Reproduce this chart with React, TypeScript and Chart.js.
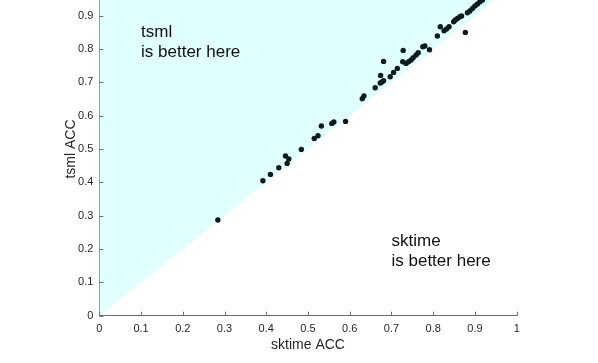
import React, { useEffect, useRef } from 'react';
import { Chart, registerables } from 'chart.js';

Chart.register(...registerables);

// sktime ACC (x) vs tsml ACC (y)
const sktimeAcc = [
  0.284, 0.392, 0.410, 0.430, 0.446, 0.454, 0.450, 0.484, 0.515, 0.524,
  0.532, 0.557, 0.562, 0.590, 0.630, 0.634, 0.661, 0.673, 0.677, 0.681,
  0.674, 0.681, 0.697, 0.705, 0.714, 0.728, 0.727, 0.735, 0.741, 0.747,
  0.752, 0.759, 0.764, 0.775, 0.780, 0.791, 0.810, 0.817, 0.826, 0.832,
  0.838, 0.849, 0.853, 0.858, 0.864, 0.868, 0.877, 0.882, 0.888, 0.894,
  0.900, 0.906, 0.912, 0.918,
];
const tsmlAcc = [
  0.287, 0.405, 0.424, 0.444, 0.479, 0.470, 0.457, 0.499, 0.532, 0.540,
  0.569, 0.577, 0.581, 0.583, 0.651, 0.659, 0.684, 0.698, 0.701, 0.705,
  0.721, 0.763, 0.717, 0.730, 0.742, 0.796, 0.762, 0.757, 0.762, 0.767,
  0.774, 0.782, 0.789, 0.807, 0.809, 0.798, 0.839, 0.867, 0.855, 0.860,
  0.867, 0.882, 0.887, 0.892, 0.897, 0.899, 0.850, 0.909, 0.914, 0.922,
  0.929, 0.935, 0.942, 0.947,
];

const tickValues = [0, 0.1, 0.2, 0.3, 0.4, 0.5, 0.6, 0.7, 0.8, 0.9, 1];
const tickLabels = ['0', '0.1', '0.2', '0.3', '0.4', '0.5', '0.6', '0.7', '0.8', '0.9', '1'];
const diagonalX = [0, 1];
const diagonalY = [0, 1];
const xTitle = 'sktime ACC';
const yTitle = 'tsml ACC';
const noteTsmlLines = ['tsml', 'is better here'];
const noteTsmlPos = [0.1, 0.835];
const noteSktimeLines = ['sktime', 'is better here'];
const noteSktimePos = [0.7, 0.21];

const FONT = '"Liberation Sans", Arial, Helvetica, sans-serif';
const AXIS_COLOR = '#6e6e6e';
const TEXT_COLOR = '#262626';

const extrasPlugin = {
  id: 'extras',
  afterDatasetsDraw(chart: any) {
    const { ctx, chartArea, scales } = chart;
    const xs = scales.x;
    const ys = scales.y;
    ctx.save();
    // inward tick marks
    ctx.strokeStyle = AXIS_COLOR;
    ctx.lineWidth = 1;
    ctx.beginPath();
    tickValues.forEach((v) => {
      const px = Math.round(xs.getPixelForValue(v)) + 0.5;
      ctx.moveTo(px, chartArea.bottom);
      ctx.lineTo(px, chartArea.bottom - 4);
      const py = Math.round(ys.getPixelForValue(v)) + 0.5;
      ctx.moveTo(chartArea.left, py);
      ctx.lineTo(chartArea.left + 4, py);
    });
    ctx.stroke();
    // annotations
    ctx.fillStyle = '#111111';
    ctx.font = `17px ${FONT}`;
    ctx.textAlign = 'left';
    ctx.textBaseline = 'alphabetic';
    const drawNote = (lines: string[], pos: number[]) => {
      const x = xs.getPixelForValue(pos[0]);
      const y = ys.getPixelForValue(pos[1]);
      lines.forEach((t, i) => ctx.fillText(t, x, y + i * 20));
    };
    drawNote(noteTsmlLines, noteTsmlPos);
    drawNote(noteSktimeLines, noteSktimePos);
    ctx.restore();
  },
};

export default function App() {
  const canvasRef = useRef<HTMLCanvasElement | null>(null);

  useEffect(() => {
    if (!canvasRef.current) return;
    const points = sktimeAcc.map((x, i) => ({ x, y: tsmlAcc[i] }));
    const diag = diagonalX.map((x, i) => ({ x, y: diagonalY[i] }));
    const chart = new Chart(canvasRef.current, {
      type: 'scatter',
      data: {
        datasets: [
          {
            type: 'line',
            data: diag,
            borderWidth: 0,
            borderColor: 'rgba(0,0,0,0)',
            pointRadius: 0,
            fill: 'end',
            backgroundColor: '#e0ffff',
            order: 2,
          } as any,
          {
            data: points,
            pointRadius: 2.7,
            pointBorderWidth: 0,
            pointBackgroundColor: '#0c1c1c',
            backgroundColor: '#0c1c1c',
            borderWidth: 0,
            order: 1,
          },
        ],
      },
      options: {
        animation: false,
        responsive: true,
        maintainAspectRatio: false,
        layout: { padding: { top: 19.4, right: 81.3, bottom: 0, left: 0 } },
        plugins: { legend: { display: false }, tooltip: { enabled: false } },
        scales: {
          x: {
            type: 'linear',
            min: 0,
            max: 1,
            grid: { display: false, drawTicks: false },
            border: { display: true, color: AXIS_COLOR, width: 1 },
            afterBuildTicks: (s: any) => {
              s.ticks = tickValues.map((v) => ({ value: v }));
            },
            afterFit: (s: any) => {
              s.height = 47.3;
            },
            ticks: {
              autoSkip: false,
              maxRotation: 0,
              padding: 7,
              color: TEXT_COLOR,
              font: { family: FONT, size: 11 },
              callback: (_v: any, i: number) => tickLabels[i],
            },
            title: {
              display: true,
              text: xTitle,
              color: TEXT_COLOR,
              font: { family: FONT, size: 14 },
              padding: { top: 0, bottom: 9.6 },
            },
          },
          y: {
            type: 'linear',
            min: 0,
            max: 1,
            grid: { display: false, drawTicks: false },
            border: { display: true, color: AXIS_COLOR, width: 1 },
            afterBuildTicks: (s: any) => {
              s.ticks = tickValues.map((v) => ({ value: v }));
            },
            afterFit: (s: any) => {
              s.width = 99.3;
            },
            ticks: {
              autoSkip: false,
              padding: 6,
              color: TEXT_COLOR,
              font: { family: FONT, size: 11 },
              callback: (_v: any, i: number) => tickLabels[i],
            },
            title: {
              display: true,
              text: yTitle,
              color: TEXT_COLOR,
              font: { family: FONT, size: 14 },
              padding: { top: 62.6, bottom: 0 },
            },
          },
        },
      },
      plugins: [extrasPlugin],
    });
    return () => chart.destroy();
  }, []);

  return (
    <div
      style={{
        position: 'fixed',
        top: 0,
        left: 0,
        width: 598,
        height: 363,
        overflow: 'hidden',
        background: '#ffffff',
      }}
    >
      <div style={{ position: 'absolute', top: -37, left: 0, width: 598, height: 400 }}>
        <canvas ref={canvasRef} />
      </div>
    </div>
  );
}
